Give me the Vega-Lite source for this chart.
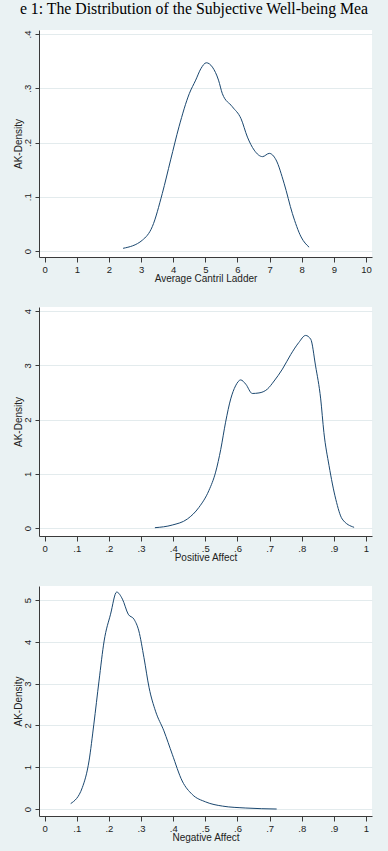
{
  "$schema": "https://vega.github.io/schema/vega-lite/v6.json",
  "background": "#eaf2f3",
  "padding": {"left": 0, "top": 0, "right": 0, "bottom": 9},
  "config": {
    "font": "Liberation Sans",
    "view": {"stroke": null, "fill": "white"},
    "axis": {
      "domainColor": "#3a3a3a",
      "tickColor": "#3a3a3a",
      "labelColor": "#222222",
      "titleColor": "#222222",
      "labelFont": "Liberation Sans",
      "titleFont": "Liberation Sans",
      "labelFontSize": 9.5,
      "titleFontSize": 10,
      "titleFontWeight": "normal",
      "gridColor": "#e3ebed",
      "gridWidth": 1,
      "labelOverlap": false,
      "labelFlush": false
    },
    "axisX": {"tickSize": 5, "labelPadding": 2, "titlePadding": 0, "grid": false},
    "axisY": {
      "tickSize": 4,
      "labelAngle": 270,
      "labelAlign": "center",
      "labelBaseline": "bottom",
      "labelPadding": 3,
      "titlePadding": -1,
      "grid": true
    }
  },
  "datasets": {
    "ladder": [
      {"value": 2.44, "density": 0.005},
      {"value": 3.04, "density": 0.020},
      {"value": 3.35, "density": 0.045},
      {"value": 3.66, "density": 0.106},
      {"value": 3.92, "density": 0.168},
      {"value": 4.18, "density": 0.229},
      {"value": 4.50, "density": 0.290},
      {"value": 4.70, "density": 0.315},
      {"value": 4.86, "density": 0.336},
      {"value": 5.03, "density": 0.347},
      {"value": 5.22, "density": 0.339},
      {"value": 5.41, "density": 0.315},
      {"value": 5.53, "density": 0.290},
      {"value": 5.84, "density": 0.266},
      {"value": 6.11, "density": 0.244},
      {"value": 6.31, "density": 0.210},
      {"value": 6.52, "density": 0.186},
      {"value": 6.78, "density": 0.174},
      {"value": 6.99, "density": 0.180},
      {"value": 7.20, "density": 0.168},
      {"value": 7.45, "density": 0.125},
      {"value": 7.71, "density": 0.069},
      {"value": 7.98, "density": 0.026},
      {"value": 8.23, "density": 0.007}
    ],
    "positive": [
      {"value": 0.343, "density": 0.006},
      {"value": 0.397, "density": 0.055},
      {"value": 0.444, "density": 0.166},
      {"value": 0.480, "density": 0.38},
      {"value": 0.511, "density": 0.69},
      {"value": 0.532, "density": 1.03},
      {"value": 0.548, "density": 1.45},
      {"value": 0.563, "density": 1.95},
      {"value": 0.579, "density": 2.38},
      {"value": 0.594, "density": 2.62},
      {"value": 0.610, "density": 2.73},
      {"value": 0.626, "density": 2.65},
      {"value": 0.646, "density": 2.48},
      {"value": 0.667, "density": 2.49},
      {"value": 0.693, "density": 2.56},
      {"value": 0.714, "density": 2.71},
      {"value": 0.740, "density": 2.93},
      {"value": 0.766, "density": 3.20},
      {"value": 0.791, "density": 3.42},
      {"value": 0.812, "density": 3.55},
      {"value": 0.828, "density": 3.48},
      {"value": 0.843, "density": 2.99},
      {"value": 0.859, "density": 2.38},
      {"value": 0.869, "density": 1.76},
      {"value": 0.885, "density": 1.15},
      {"value": 0.906, "density": 0.53},
      {"value": 0.926, "density": 0.166},
      {"value": 0.963, "density": 0.013}
    ],
    "negative": [
      {"value": 0.081, "density": 0.13},
      {"value": 0.117, "density": 0.51},
      {"value": 0.138, "density": 1.15},
      {"value": 0.153, "density": 2.03},
      {"value": 0.169, "density": 3.06},
      {"value": 0.185, "density": 4.02},
      {"value": 0.205, "density": 4.66},
      {"value": 0.224, "density": 5.19},
      {"value": 0.242, "density": 5.02},
      {"value": 0.260, "density": 4.66},
      {"value": 0.278, "density": 4.54},
      {"value": 0.293, "density": 4.26},
      {"value": 0.309, "density": 3.62},
      {"value": 0.325, "density": 2.90},
      {"value": 0.345, "density": 2.34},
      {"value": 0.371, "density": 1.87},
      {"value": 0.397, "density": 1.31},
      {"value": 0.428, "density": 0.67},
      {"value": 0.459, "density": 0.35},
      {"value": 0.501, "density": 0.17},
      {"value": 0.553, "density": 0.07},
      {"value": 0.626, "density": 0.024},
      {"value": 0.722, "density": 0.0}
    ]
  },
  "spacing": 12,
  "vconcat": [
    {
      "width": 388,
      "height": 18,
      "data": {"values": [{"caption": "e 1: The Distribution of the Subjective Well-being Mea"}]},
      "mark": {"type": "text", "font": "Liberation Serif", "fontSize": 15.8, "color": "black", "baseline": "middle", "align": "center"},
      "encoding": {"text": {"field": "caption"}}
    },
    {
      "spacing": 11,
      "hconcat": [
        {
          "width": 1,
          "height": 1,
          "view": {"fill": null, "stroke": null},
          "data": {"values": [{}]},
          "mark": {"type": "point", "size": 0, "filled": true, "strokeWidth": 0, "opacity": 0},
          "encoding": {}
        },
        {
          "spacing": 23,
          "vconcat": [
            {
              "width": 333,
              "height": 227,
              "data": {"name": "ladder"},
              "mark": {"type": "line", "color": "#1a476f", "strokeWidth": 1, "interpolate": "monotone"},
              "encoding": {
                "x": {
                  "field": "value", "type": "quantitative",
                  "scale": {"domain": [-0.177, 10.187], "nice": false, "zero": false},
                  "axis": {"title": "Average Cantril Ladder", "values": [0, 1, 2, 3, 4, 5, 6, 7, 8, 9, 10]}
                },
                "y": {
                  "field": "density", "type": "quantitative",
                  "scale": {"domain": [-0.011, 0.4074], "nice": false, "zero": false},
                  "axis": {
                    "title": "AK-Density",
                    "values": [0, 0.1, 0.2, 0.3, 0.4],
                    "labelExpr": "replace(format(datum.value, '.1~f'), '0.', '.')"
                  }
                }
              }
            },
            {
              "width": 333,
              "height": 229,
              "data": {"name": "positive"},
              "mark": {"type": "line", "color": "#1a476f", "strokeWidth": 1, "interpolate": "monotone"},
              "encoding": {
                "x": {
                  "field": "value", "type": "quantitative",
                  "scale": {"domain": [-0.0177, 1.0187], "nice": false, "zero": false},
                  "axis": {
                    "title": "Positive Affect",
                    "values": [0, 0.1, 0.2, 0.3, 0.4, 0.5, 0.6, 0.7, 0.8, 0.9, 1],
                    "labelExpr": "replace(format(datum.value, '.1~f'), '0.', '.')"
                  }
                },
                "y": {
                  "field": "density", "type": "quantitative",
                  "scale": {"domain": [-0.147, 4.074], "nice": false, "zero": false},
                  "axis": {"title": "AK-Density", "values": [0, 1, 2, 3, 4]}
                }
              }
            },
            {
              "width": 333,
              "height": 230,
              "data": {"name": "negative"},
              "mark": {"type": "line", "color": "#1a476f", "strokeWidth": 1, "interpolate": "monotone"},
              "encoding": {
                "x": {
                  "field": "value", "type": "quantitative",
                  "scale": {"domain": [-0.0177, 1.0187], "nice": false, "zero": false},
                  "axis": {
                    "title": "Negative Affect",
                    "values": [0, 0.1, 0.2, 0.3, 0.4, 0.5, 0.6, 0.7, 0.8, 0.9, 1],
                    "labelExpr": "replace(format(datum.value, '.1~f'), '0.', '.')"
                  }
                },
                "y": {
                  "field": "density", "type": "quantitative",
                  "scale": {"domain": [-0.167, 5.335], "nice": false, "zero": false},
                  "axis": {"title": "AK-Density", "values": [0, 1, 2, 3, 4, 5]}
                }
              }
            }
          ]
        }
      ]
    }
  ]
}
